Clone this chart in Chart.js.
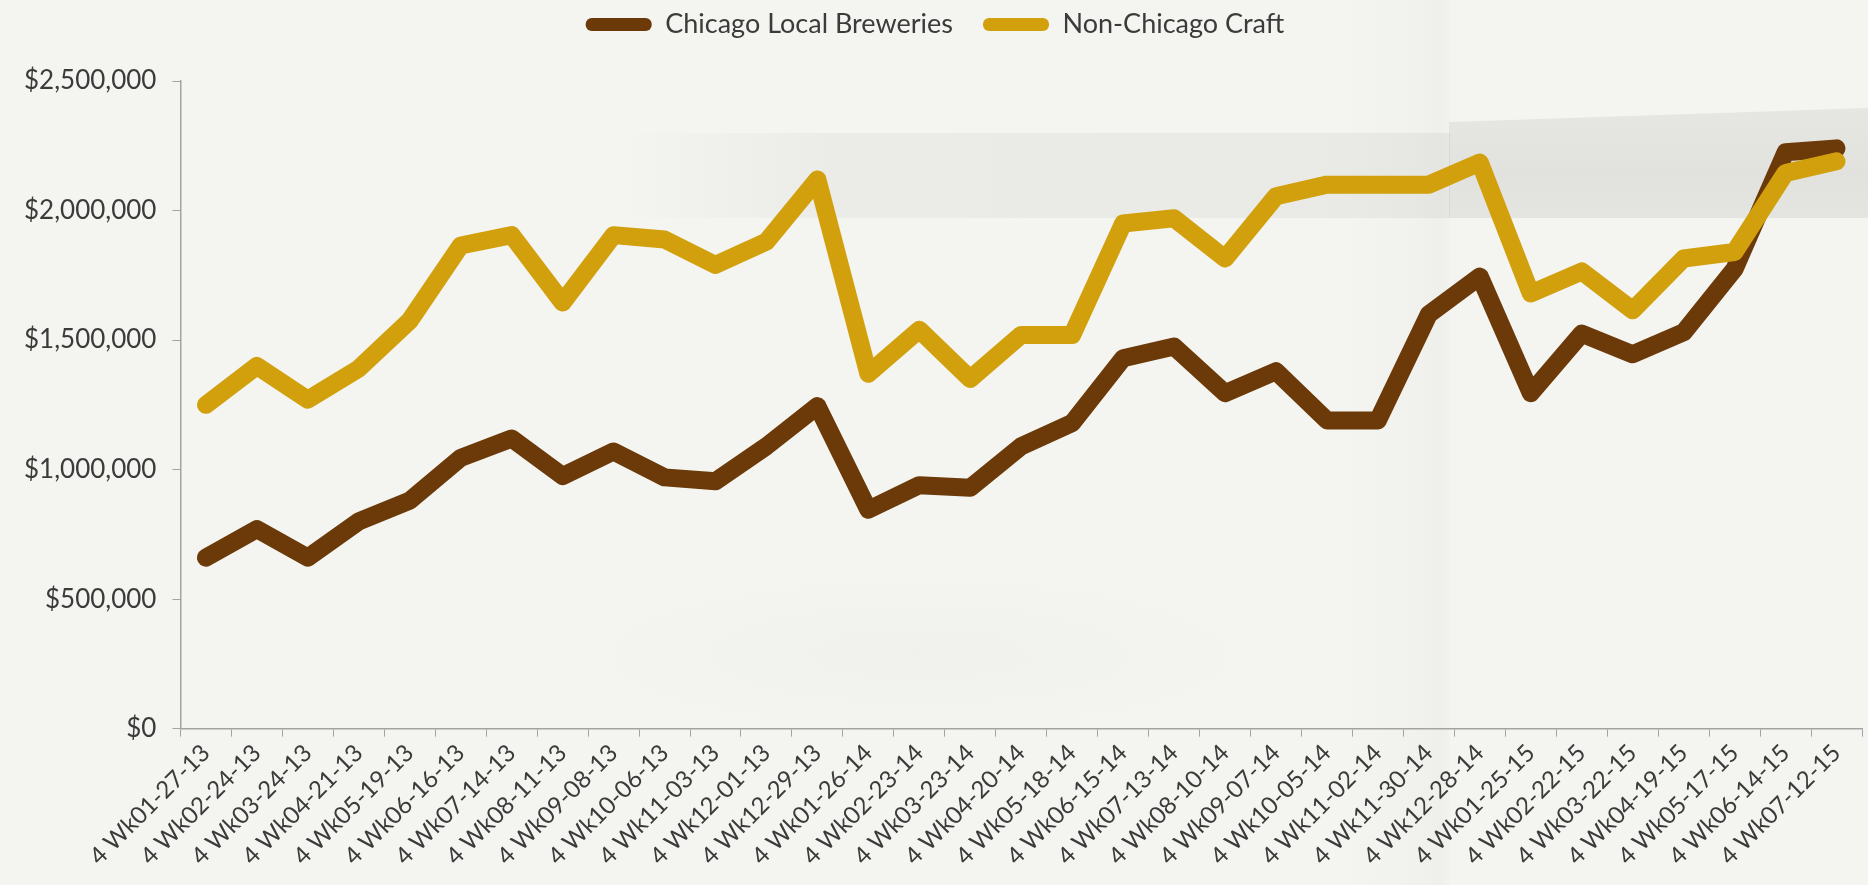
<!DOCTYPE html>
<html>
<head>
<meta charset="utf-8">
<title>Craft Beer Sales - Chicago vs Non-Chicago</title>
<script src="https://cdn.jsdelivr.net/npm/chart.js@4.4.1/dist/chart.umd.min.js"></script>
<style>
    html, body {
        margin: 0;
        padding: 0;
    }
    body {
        width: 1868px;
        height: 885px;
        overflow: hidden;
        background-color: #f4f4f1;
    }
    #wrap {
        position: relative;
        width: 1868px;
        height: 885px;
    }
    /* faint keg photo behind the chart */
    .bg {
        position: absolute;
        pointer-events: none;
    }
    .band-mid {
        left: 620px;
        top: 133px;
        width: 830px;
        height: 85px;
        background: linear-gradient(90deg, rgba(90,90,85,0) 0px, rgba(90,90,85,0.06) 220px, rgba(90,90,85,0.07) 100%);
    }
    .band-right {
        left: 1449px;
        top: 108px;
        width: 419px;
        height: 110px;
        background: linear-gradient(180deg, rgba(90,90,85,0.09) 0%, rgba(90,90,85,0.12) 60%, rgba(90,90,85,0.10) 100%);
        clip-path: polygon(0 14px, 100% 0, 100% 100%, 0 100%);
    }
    .seam {
        left: 1340px;
        top: 0;
        width: 110px;
        height: 885px;
        background: linear-gradient(90deg, rgba(90,90,85,0) 0%, rgba(90,90,85,0.02) 70%, rgba(90,90,85,0.035) 92%, rgba(90,90,85,0.01) 100%);
    }
    .haze {
        left: 560px;
        top: 570px;
        width: 720px;
        height: 170px;
        background: radial-gradient(ellipse at center, rgba(90,90,85,0.025) 0%, rgba(90,90,85,0) 70%);
    }
    #salesChart {
        position: relative;
    }
</style>
</head>
<body>
<div id="wrap">
    <div class="bg band-mid"></div>
    <div class="bg seam"></div>
    <div class="bg band-right"></div>
    <div class="bg haze"></div>
    <canvas id="salesChart"></canvas>
</div>
<script>
const periods = [
    '4 Wk01-27-13', '4 Wk02-24-13', '4 Wk03-24-13', '4 Wk04-21-13', '4 Wk05-19-13',
    '4 Wk06-16-13', '4 Wk07-14-13', '4 Wk08-11-13', '4 Wk09-08-13', '4 Wk10-06-13',
    '4 Wk11-03-13', '4 Wk12-01-13', '4 Wk12-29-13', '4 Wk01-26-14', '4 Wk02-23-14',
    '4 Wk03-23-14', '4 Wk04-20-14', '4 Wk05-18-14', '4 Wk06-15-14', '4 Wk07-13-14',
    '4 Wk08-10-14', '4 Wk09-07-14', '4 Wk10-05-14', '4 Wk11-02-14', '4 Wk11-30-14',
    '4 Wk12-28-14', '4 Wk01-25-15', '4 Wk02-22-15', '4 Wk03-22-15', '4 Wk04-19-15',
    '4 Wk05-17-15', '4 Wk06-14-15', '4 Wk07-12-15'
];

const chicagoLocal = [
    660000, 770000, 660000, 800000, 880000, 1045000, 1120000, 975000, 1070000, 970000,
    955000, 1090000, 1245000, 845000, 940000, 930000, 1090000, 1180000, 1430000, 1475000,
    1295000, 1380000, 1190000, 1190000, 1600000, 1745000, 1295000, 1525000, 1445000, 1530000,
    1775000, 2225000, 2240000
];

const nonChicagoCraft = [
    1250000, 1400000, 1270000, 1390000, 1575000, 1865000, 1905000, 1645000, 1905000, 1888000,
    1790000, 1880000, 2120000, 1370000, 1540000, 1350000, 1520000, 1520000, 1950000, 1970000,
    1815000, 2055000, 2100000, 2100000, 2100000, 2185000, 1680000, 1765000, 1615000, 1815000,
    1840000, 2145000, 2190000
];

const yTicks = [0, 500000, 1000000, 1500000, 2000000, 2500000];

const BROWN = '#6b3a08';
const GOLD = '#d1a00c';
const TEXT = '#3b3b3b';
const AXIS = '#a3a3a3';

function money(v) {
    return '$' + Number(v).toLocaleString('en-US');
}

// extra room between the legend and the plot
const legendSpacer = {
    id: 'legendSpacer',
    beforeInit(chart) {
        const fit = chart.legend.fit;
        chart.legend.fit = function () {
            fit.call(this);
            this.height += 33;
        };
    }
};

const ctx = document.getElementById('salesChart').getContext('2d');

const salesChart = new Chart(ctx, {
    type: 'line',
    data: {
        labels: periods,
        datasets: [
            {
                label: 'Chicago Local Breweries',
                data: chicagoLocal,
                borderColor: BROWN,
                backgroundColor: BROWN,
                order: 1
            },
            {
                label: 'Non-Chicago Craft',
                data: nonChicagoCraft,
                borderColor: GOLD,
                backgroundColor: GOLD,
                order: 0
            }
        ]
    },
    plugins: [legendSpacer],
    options: {
        responsive: true,
        maintainAspectRatio: false,
        animation: false,
        layout: {
            padding: { top: -19, right: 6, bottom: 12, left: 8 }
        },
        elements: {
            line: {
                borderWidth: 18,
                tension: 0,
                borderCapStyle: 'round',
                borderJoinStyle: 'round'
            },
            point: { radius: 0, hoverRadius: 0 }
        },
        plugins: {
            tooltip: { enabled: false },
            legend: {
                position: 'top',
                align: 'center',
                labels: {
                    color: TEXT,
                    font: { family: 'Lato', size: 27 },
                    boxWidth: 66,
                    boxHeight: 13,
                    useBorderRadius: true,
                    borderRadius: 6,
                    padding: 30,
                    sort: (a, b) => a.datasetIndex - b.datasetIndex,
                    generateLabels: chart => {
                        const items = Chart.defaults.plugins.legend.labels.generateLabels(chart);
                        return items.map(it => {
                            const ds = chart.data.datasets[it.datasetIndex];
                            it.fillStyle = ds.borderColor;
                            it.strokeStyle = ds.borderColor;
                            it.lineWidth = 0;
                            return it;
                        });
                    }
                }
            }
        },
        scales: {
            x: {
                offset: true,
                grid: {
                    offset: true,
                    drawOnChartArea: false,
                    drawTicks: true,
                    tickLength: 8,
                    color: AXIS
                },
                border: { color: AXIS, width: 1.5 },
                ticks: {
                    color: TEXT,
                    font: { family: 'Lato', size: 24 },
                    maxRotation: 45,
                    minRotation: 45,
                    autoSkip: false,
                    padding: 2
                }
            },
            y: {
                min: 0,
                max: 2500000,
                afterBuildTicks: scale => {
                    scale.ticks = yTicks.map(v => ({ value: v }));
                },
                grid: {
                    drawOnChartArea: false,
                    drawTicks: true,
                    tickLength: 8,
                    color: AXIS
                },
                border: { color: AXIS, width: 1.5 },
                ticks: {
                    color: TEXT,
                    font: { family: 'Lato', size: 26 },
                    padding: 16,
                    callback: v => money(v)
                }
            }
        }
    }
});
</script>
</body>
</html>
